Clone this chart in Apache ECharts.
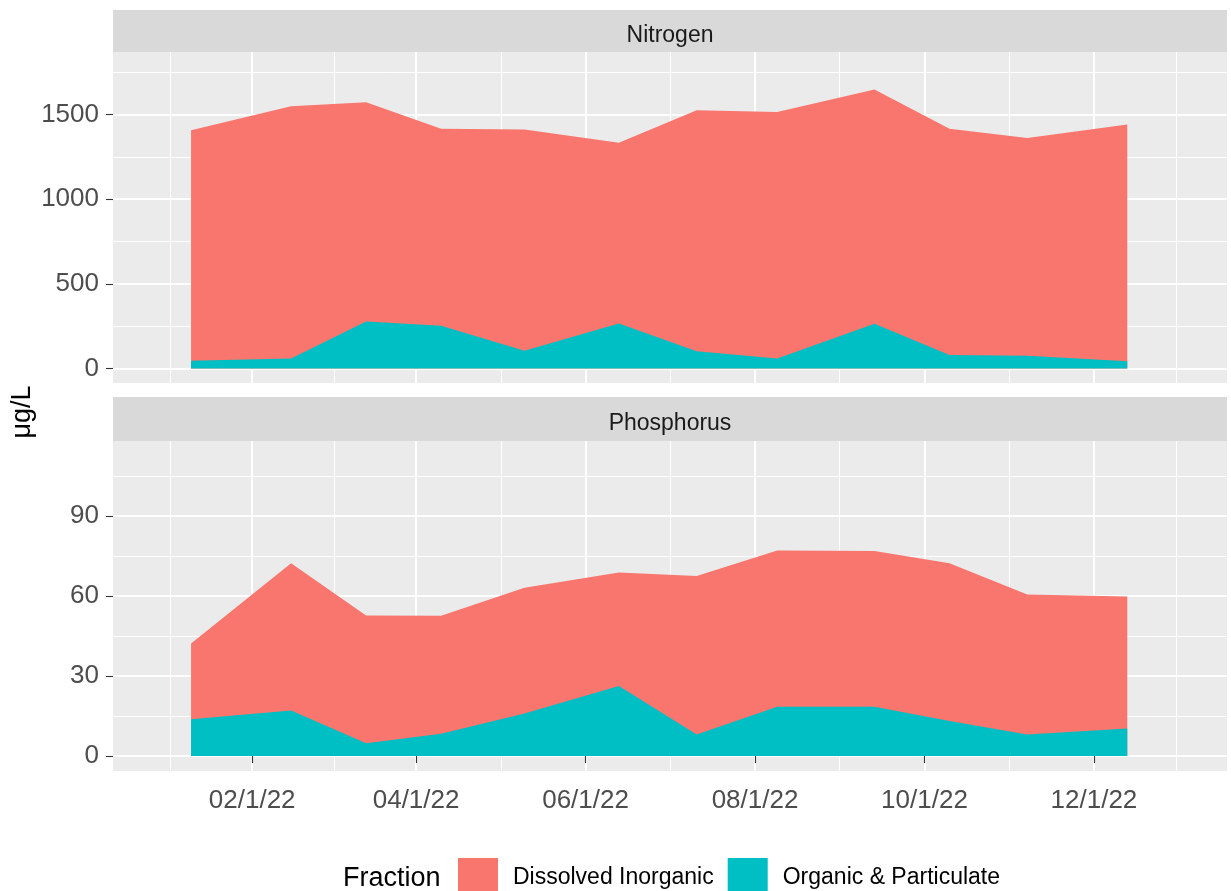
<!DOCTYPE html>
<html><head><meta charset="utf-8">
<script src="https://cdn.jsdelivr.net/npm/echarts@6.0.0/dist/echarts.min.js"></script>
<style>html,body{margin:0;padding:0;background:#fff}#chart{width:1231px;height:891px}</style>
</head><body><div id="chart"></div>
<script>
// ---- data ----
const sampleDates = ['2022-01-10','2022-02-15','2022-03-14','2022-04-10','2022-05-10','2022-06-13','2022-07-11','2022-08-09','2022-09-13','2022-10-10','2022-11-07','2022-12-13'];
const nitrogenDissolved = [1363,1490,1296,1165,1308,1068,1424,1457,1384,1338,1287,1398];
const nitrogenOrganic = [45,59,277,252,104,265,102,59,264,79,75,43];
const phosphorusDissolved = [28.4,55.2,47.9,44.2,47.1,42.5,59.4,58.6,58.4,59.2,52.5,49.5];
const phosphorusOrganic = [13.8,17.1,4.8,8.4,16.0,26.3,8.1,18.5,18.5,13.1,8.1,10.3];
const xTickDates = ['2022-02-01','2022-04-01','2022-06-01','2022-08-01','2022-10-01','2022-12-01'];
const xMinorDates = ['2022-01-02T12:00','2022-03-02T12:00','2022-05-01T12:00','2022-07-01T12:00','2022-08-31T12:00','2022-10-31T12:00','2022-12-30T12:00'];
const nitrogenTicks = [0,500,1000,1500];
const nitrogenMinor = [250,750,1250,1750];
const phosphorusTicks = [0,30,60,90];
const phosphorusMinor = [15,45,75,105];
const facetNames = ['Nitrogen','Phosphorus'];
const fractionNames = ['Dissolved Inorganic','Organic & Particulate'];

// ---- helpers ----
const ms = s => Date.parse(s + (s.length === 10 ? 'T00:00:00Z' : ':00Z'));
const X_MIN = Date.UTC(2021, 11, 12, 21, 36);
const X_MAX = Date.UTC(2023, 0, 17, 21, 36);
const RED = '#F8766D', TEAL = '#00BFC4';
const FONT = '"Liberation Sans", Arial, sans-serif';
const fmtDate = v => {
  const d = new Date(v);
  return String(d.getUTCMonth() + 1).padStart(2, '0') + '/' + d.getUTCDate() + '/' + String(d.getUTCFullYear()).slice(2);
};

const GRIDS = [
  {left: 113, width: 1114, top: 52, height: 331},
  {left: 113, width: 1114, top: 441, height: 330}
];
const Y_LIMITS = [[-86, 1870], [-5.6, 118.1]];
const Y_MAJOR = [nitrogenTicks, phosphorusTicks];
const Y_MINOR = [nitrogenMinor, phosphorusMinor];

const xMajorVals = xTickDates.map(ms);
const xMinorVals = xMinorDates.map(ms);

const grid = GRIDS.map(g => Object.assign({show: true, backgroundColor: '#EBEBEB', borderWidth: 0, containLabel: false, outerBoundsMode: 'none'}, g));

const xAxis = [], yAxis = [];
[0, 1].forEach(gi => {
  const showLab = gi === 1;
  xAxis.push({
    type: 'value', gridIndex: gi, min: X_MIN, max: X_MAX, position: 'bottom',
    axisLine: {show: false},
    axisTick: {show: showLab, customValues: xMajorVals, length: 7, lineStyle: {color: '#333333', width: 1.1}},
    axisLabel: {show: showLab, customValues: xMajorVals, formatter: fmtDate, margin: 17, fontSize: 26, color: '#4D4D4D', fontFamily: FONT},
    splitLine: {show: true, lineStyle: {color: '#FFFFFF', width: 2}}
  });
  xAxis.push({
    type: 'value', gridIndex: gi, min: X_MIN, max: X_MAX, position: 'top',
    axisLine: {show: false},
    axisTick: {show: false, customValues: xMinorVals},
    axisLabel: {show: false, customValues: xMinorVals},
    splitLine: {show: true, lineStyle: {color: '#FFFFFF', width: 1}}
  });
  yAxis.push({
    type: 'value', gridIndex: gi, min: Y_LIMITS[gi][0], max: Y_LIMITS[gi][1], position: 'left',
    axisLine: {show: false},
    axisTick: {show: true, customValues: Y_MAJOR[gi], length: 7, lineStyle: {color: '#333333', width: 1.1}},
    axisLabel: {show: true, customValues: Y_MAJOR[gi], formatter: v => String(v), margin: 14, fontSize: 26, color: '#4D4D4D', fontFamily: FONT},
    splitLine: {show: true, lineStyle: {color: '#FFFFFF', width: 2}}
  });
  yAxis.push({
    type: 'value', gridIndex: gi, min: Y_LIMITS[gi][0], max: Y_LIMITS[gi][1], position: 'right',
    axisLine: {show: false},
    axisTick: {show: false, customValues: Y_MINOR[gi]},
    axisLabel: {show: false, customValues: Y_MINOR[gi]},
    splitLine: {show: true, lineStyle: {color: '#FFFFFF', width: 1}}
  });
});

// Stacked areas: the upper band is drawn as the cumulative total (organic + dissolved)
// behind the lower band, which gives the same picture as a position="stack" area.
function areaSeries(name, color, values, gi, z) {
  return {
    name: name, type: 'line',
    xAxisIndex: gi * 2, yAxisIndex: gi * 2,
    data: sampleDates.map((d, i) => [ms(d), values[i]]),
    symbol: 'none', showSymbol: false,
    lineStyle: {width: 0, opacity: 0},
    itemStyle: {color: color},
    areaStyle: {color: color, opacity: 1, origin: 0},
    silent: true, z: z
  };
}
const sum = (a, b) => a.map((v, i) => v + b[i]);

const series = [
  areaSeries(fractionNames[0], RED, sum(nitrogenOrganic, nitrogenDissolved), 0, 3),
  areaSeries(fractionNames[1], TEAL, nitrogenOrganic, 0, 4),
  areaSeries(fractionNames[0], RED, sum(phosphorusOrganic, phosphorusDissolved), 1, 3),
  areaSeries(fractionNames[1], TEAL, phosphorusOrganic, 1, 4)
];

const option = {
  animation: false,
  backgroundColor: '#FFFFFF',
  grid: grid,
  xAxis: xAxis,
  yAxis: yAxis,
  series: series,
  legend: {
    data: fractionNames, left: 458, top: 858, padding: 0,
    itemWidth: 40, itemHeight: 40, itemGap: 14, icon: 'rect',
    selectedMode: false,
    itemStyle: {borderWidth: 0},
    textStyle: {fontSize: 23, color: '#000000', fontFamily: FONT, padding: [0, 0, 0, 10]}
  },
  graphic: [
    {type: 'rect', left: 113, top: 10, shape: {width: 1114, height: 42}, style: {fill: '#D9D9D9'}, silent: true},
    {type: 'rect', left: 113, top: 397, shape: {width: 1114, height: 44}, style: {fill: '#D9D9D9'}, silent: true},
    {type: 'text', x: 670, y: 36, style: {text: facetNames[0], font: '23px ' + FONT, fill: '#1A1A1A', textAlign: 'center', textVerticalAlign: 'middle'}, silent: true},
    {type: 'text', x: 670, y: 424, style: {text: facetNames[1], font: '23px ' + FONT, fill: '#1A1A1A', textAlign: 'center', textVerticalAlign: 'middle'}, silent: true},
    {type: 'text', x: 23, y: 412, rotation: Math.PI / 2, style: {text: 'μg/L', font: '27px ' + FONT, fill: '#000000', textAlign: 'center', textVerticalAlign: 'middle'}, silent: true},
    {type: 'text', x: 343, y: 879, style: {text: 'Fraction', font: '27px ' + FONT, fill: '#000000', textAlign: 'left', textVerticalAlign: 'middle'}, silent: true}
  ]
};

const chart = echarts.init(document.getElementById('chart'));
chart.setOption(option);
</script>
</body></html>
